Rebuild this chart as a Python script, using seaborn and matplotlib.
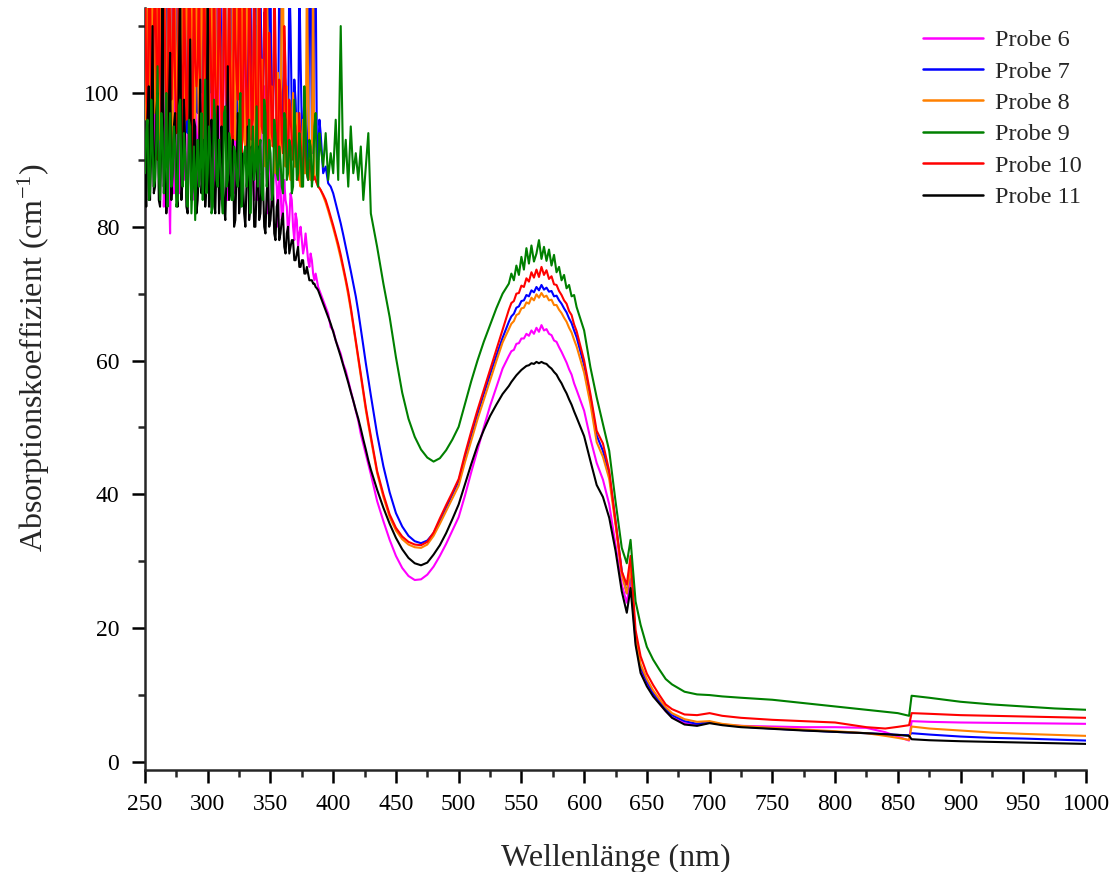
import numpy as np
import pandas as pd
import matplotlib
matplotlib.use("Agg")
import matplotlib.pyplot as plt
from matplotlib.ticker import MultipleLocator
import seaborn as sns

# ---- wavelength grids (nm) ----
wl_noise = list(range(250, 390))          # 1 nm steps, noisy UV edge
wl_uv = list(range(390, 431, 2))
wl_mid = [435, 440, 445, 450, 455, 460, 465, 470, 475, 480, 485, 490, 495,
          500, 505, 510, 515, 520, 525, 530, 535]
wl_peak = list(range(540, 595, 2))
wl_red = [600, 605, 610, 615, 620, 625, 630, 634, 637, 641, 645, 650, 655,
          660, 665, 670, 680, 690, 700, 710, 725, 750, 775, 800, 825, 840,
          850, 859, 861, 875, 900, 925, 950, 975, 1000]

# ---- absorption coefficient (1/cm); off-scale readings stored as 118 ----
p6_noise = [80, 112, 104, 84, 88, 97, 118, 86, 92, 118,
            118, 91, 86, 118, 108, 83, 95, 101, 118, 88,
            79, 96, 118, 85, 90, 118, 102, 93, 85, 100,
            118, 87, 96, 118, 88, 94, 118, 90, 84, 118,
            107, 85, 92, 98, 118, 90, 86, 118, 99, 88,
            118, 95, 83, 118, 110, 86, 94, 118, 87, 97,
            118, 84, 90, 118, 104, 92, 84, 99, 118, 87,
            96, 118, 85, 91, 108, 118, 89, 85, 118, 100,
            92, 118, 86, 89, 103, 94, 88, 84, 98, 110,
            84, 89, 95, 85, 86, 101, 92, 87, 82, 94,
            90, 83, 84, 92, 88, 86, 80, 89, 86, 81,
            82, 87, 84, 83, 79, 81, 85, 84, 80, 78,
            82, 81, 77, 79, 80, 78, 76, 77, 79, 77,
            75, 74, 76, 75, 73, 72, 73, 72, 71, 70.5]
p6_uv = [70, 69, 68, 67, 65, 64.5, 63, 62, 61, 59.5,
         58.5, 57, 55.5, 54, 52.5, 51, 49, 47.5, 46, 44.5, 43]
p6_mid = [39.0, 36.0, 33.2, 30.8, 29.0, 27.8, 27.2, 27.3, 28.0, 29.2, 30.8,
          32.6, 34.6, 36.6, 39.8, 43.3, 46.6, 50.0, 53.2, 56.0, 58.8]
p6_peak = [60.7, 61.4, 61.6, 62.5, 62.6, 63.3, 63.3, 64.0, 63.7, 64.5, 64.0,
           64.9, 64.3, 65.3, 64.5, 64.7, 64.0, 63.8, 63.0, 62.8, 62.0, 61.3,
           60.5, 59.7, 58.7, 57.9, 56.6, 55.6]
p6_red = [52.5, 48.3, 44.7, 42.2, 38.5, 32.5, 26.5, 23.8, 27.2, 18.0, 13.8,
          11.6, 10.0, 8.8, 7.6, 6.7, 5.8, 5.5, 5.9, 5.6, 5.4, 5.3, 5.2, 5.2,
          5.1, 4.45, 3.8, 3.2, 6.1, 6.0, 5.9, 5.85, 5.8, 5.75, 5.7]

p7_noise = [118, 110, 100, 118, 118, 97, 96, 118, 118, 102,
            104, 118, 118, 99, 98, 118, 118, 112, 101, 118,
            118, 96, 95, 118, 118, 103, 107, 118, 118, 98,
            99, 118, 118, 95, 94, 118, 118, 101, 103, 118,
            118, 98, 97, 118, 118, 104, 100, 118, 118, 96,
            94, 118, 118, 100, 105, 118, 118, 95, 96, 118,
            118, 102, 99, 118, 118, 94, 93, 118, 118, 99,
            102, 118, 118, 97, 96, 118, 118, 103, 100, 118,
            118, 96, 94, 118, 118, 99, 98, 118, 118, 95,
            95, 118, 118, 100, 99, 112, 108, 96, 93, 118,
            118, 95, 97, 109, 104, 94, 92, 118, 118, 98,
            96, 104, 101, 93, 91, 118, 110, 97, 94, 102,
            99, 93, 90, 118, 105, 95, 92, 100, 97, 91,
            89, 118, 118, 93, 91, 118, 118, 92, 90, 96]
p7_uv = [94, 88, 89, 86.5, 86, 85, 83.5, 82, 80.5, 78.8,
         77, 75.2, 73.4, 71.5, 69.6, 67.3, 64.8, 62.2, 59.6, 57.2, 54.8]
p7_mid = [49.0, 44.2, 40.3, 37.2, 35.2, 33.8, 33.0, 32.7, 33.1, 34.2, 36.0,
          38.0, 40.0, 42.0, 45.5, 48.8, 52.0, 55.0, 57.9, 60.7, 63.4]
p7_peak = [65.8, 66.6, 67.0, 67.9, 68.1, 68.9, 69.0, 69.8, 69.6, 70.5, 70.2,
           71.0, 70.5, 71.3, 70.6, 70.9, 70.3, 70.4, 69.6, 69.7, 69.0, 68.5,
           67.8, 67.2, 66.3, 65.6, 64.5, 63.5]
p7_red = [59.3, 54.5, 48.8, 46.5, 43.0, 36.0, 28.5, 25.2, 28.8, 18.5, 14.2,
          12.0, 10.3, 9.1, 7.9, 7.0, 6.1, 5.7, 6.0, 5.6, 5.3, 5.0, 4.75, 4.5,
          4.3, 4.15, 4.05, 4.0, 4.3, 4.1, 3.8, 3.6, 3.5, 3.35, 3.2]

p8_noise = [105, 96, 118, 118, 92, 104, 118, 99, 97, 118,
            118, 93, 100, 118, 94, 107, 118, 96, 98, 118,
            118, 101, 91, 118, 118, 94, 103, 118, 95, 99,
            118, 92, 99, 118, 118, 97, 92, 118, 118, 95,
            97, 118, 106, 94, 93, 118, 118, 98, 100, 118,
            95, 92, 118, 118, 98, 103, 118, 95, 91, 118,
            108, 93, 96, 118, 118, 99, 94, 118, 102, 90,
            118, 97, 93, 118, 118, 95, 97, 118, 104, 93,
            92, 118, 118, 99, 95, 90, 101, 112, 90, 96,
            118, 92, 94, 105, 99, 91, 89, 118, 107, 93,
            92, 101, 97, 90, 88, 99, 103, 89, 91, 118,
            118, 92, 89, 101, 96, 88, 87, 94, 100, 89,
            89, 97, 94, 87, 86, 92, 96, 88, 88, 118,
            102, 89, 87, 92, 118, 88, 87, 86.5, 86, 85.8]
p8_uv = [85.5, 84.6, 83.6, 82.4, 81.1, 79.8, 78.4, 76.9, 75.3, 73.6,
         71.8, 69.8, 67.6, 65.2, 62.7, 60.2, 57.6, 55.1, 52.6, 50.4, 48.3]
p8_mid = [43.2, 39.6, 36.6, 34.6, 33.3, 32.5, 32.1, 32.0, 32.5, 33.8, 35.6,
          37.5, 39.4, 41.3, 44.8, 48.0, 51.2, 54.1, 57.0, 59.9, 62.7]
p8_peak = [64.7, 65.5, 65.9, 66.8, 67.0, 67.8, 67.9, 68.7, 68.5, 69.4, 69.0,
           69.9, 69.4, 70.1, 69.5, 69.7, 69.0, 69.1, 68.3, 68.3, 67.6, 67.1,
           66.4, 65.8, 64.9, 64.2, 63.1, 62.1]
p8_red = [58.2, 53.5, 47.8, 45.6, 42.3, 35.5, 28.0, 25.2, 29.0, 18.6, 14.6,
          12.4, 10.7, 9.4, 8.2, 7.3, 6.4, 6.0, 6.1, 5.7, 5.4, 5.1, 4.85, 4.6,
          4.3, 3.9, 3.6, 3.3, 5.3, 5.0, 4.7, 4.4, 4.2, 4.05, 3.9]

p9_noise = [88, 94, 96, 84, 85, 99, 92, 86, 87, 93,
            104, 88, 84, 97, 94, 85, 89, 100, 83, 91,
            97, 86, 88, 95, 92, 83, 84, 98, 99, 88,
            86, 94, 91, 85, 83, 96, 95, 82, 87, 92,
            81, 89, 93, 86, 89, 97, 84, 90, 102, 85,
            88, 95, 92, 82, 83, 99, 96, 87, 86, 93,
            90, 85, 82, 97, 98, 86, 87, 94, 93, 84,
            84, 92, 91, 87, 86, 95, 100, 83, 85, 91,
            92, 86, 88, 96, 82, 90, 95, 87, 89, 98,
            86, 91, 93, 85, 84, 99, 97, 86, 88, 93,
            91, 84, 85, 96, 94, 88, 87, 92, 90, 86,
            85, 97, 96, 87, 88, 93, 92, 85, 86, 99,
            93, 87, 88, 94, 91, 86, 86, 101, 95, 88,
            87, 93, 92, 86, 88, 95, 97, 88, 86, 94]
p9_uv = [92, 89, 94, 87, 91, 88, 96, 87, 110, 88,
         93, 86, 95, 88, 91, 87, 92, 84, 89, 94, 82]
p9_mid = [77.0, 71.5, 66.5, 60.5, 55.2, 51.3, 48.6, 46.7, 45.5, 44.9, 45.4,
          46.6, 48.2, 50.1, 53.5, 56.9, 60.0, 62.8, 65.3, 67.8, 70.0]
p9_peak = [71.5, 73.0, 72.0, 74.2, 72.8, 75.5, 73.6, 76.8, 74.5, 77.2, 74.8,
           76.0, 78.0, 75.2, 77.0, 74.9, 76.6, 74.2, 75.8, 73.2, 74.0, 72.0,
           72.8, 70.8, 71.3, 69.6, 69.8, 68.0]
p9_red = [64.5, 59.0, 54.5, 50.5, 46.5, 39.0, 32.0, 29.7, 33.2, 24.0, 20.5,
          17.2, 15.3, 13.8, 12.4, 11.6, 10.5, 10.1, 10.0, 9.8, 9.6, 9.3, 8.8,
          8.3, 7.8, 7.5, 7.3, 6.9, 9.9, 9.6, 9.0, 8.6, 8.3, 8.0, 7.8]

p10_noise = [118, 102, 95, 112, 118, 93, 98, 109, 118, 106,
             90, 118, 104, 97, 102, 118, 107, 91, 93, 118,
             110, 99, 105, 118, 101, 94, 96, 118, 108, 103,
             91, 118, 106, 96, 100, 118, 111, 89, 95, 118,
             105, 101, 104, 118, 99, 93, 92, 118, 108, 97,
             98, 118, 109, 100, 94, 118, 103, 92, 101, 118,
             107, 96, 90, 118, 110, 99, 97, 118, 104, 94,
             93, 118, 108, 102, 99, 118, 112, 91, 95, 118,
             106, 97, 91, 118, 110, 93, 96, 118, 105, 92,
             92, 118, 106, 95, 94, 112, 118, 91, 90, 109,
             103, 94, 92, 118, 108, 90, 89, 102, 100, 93,
             91, 110, 104, 89, 88, 99, 97, 92, 90, 96,
             95, 89, 87, 97, 93, 89, 88, 94, 91, 88,
             87, 90, 89, 88, 87, 87.5, 87, 86.5, 86, 85.8]
p10_uv = [85.5, 84.8, 84, 82.8, 81.5, 80.2, 78.8, 77.4, 75.8, 74,
          72.2, 70.3, 68, 65.5, 63, 60.5, 58, 55.5, 53, 50.8, 48.7]
p10_mid = [43.5, 40.0, 37.0, 35.0, 33.7, 32.9, 32.5, 32.4, 32.9, 34.3, 36.4,
           38.4, 40.3, 42.3, 46.0, 49.4, 52.6, 55.6, 58.6, 61.6, 64.6]
p10_peak = [67.6, 68.6, 68.9, 70.0, 70.1, 71.2, 71.0, 72.3, 71.8, 73.2, 72.4,
            73.6, 72.5, 74.0, 72.8, 73.5, 72.2, 72.6, 71.4, 71.3, 70.4, 69.8,
            69.0, 68.5, 67.4, 66.8, 65.4, 64.4]
p10_red = [60.0, 55.0, 49.5, 47.6, 43.5, 36.0, 28.5, 26.5, 30.8, 19.7, 15.8,
           13.2, 11.5, 10.0, 8.6, 7.9, 7.1, 7.0, 7.3, 6.9, 6.6, 6.3, 6.1, 5.9,
           5.2, 5.0, 5.25, 5.5, 7.3, 7.2, 7.0, 6.9, 6.8, 6.7, 6.6]

p11_noise = [88, 83, 96, 101, 84, 92, 110, 85, 86, 97,
             100, 84, 83, 93, 118, 86, 90, 82, 85, 98,
             106, 84, 88, 95, 97, 85, 83, 103, 118, 84,
             87, 99, 93, 83, 82, 91, 108, 84, 86, 96,
             95, 82, 84, 89, 102, 85, 88, 93, 83, 86,
             118, 83, 85, 96, 92, 84, 82, 90, 98, 82,
             86, 95, 90, 83, 81, 88, 104, 84, 85, 90,
             93, 80, 81, 89, 97, 82, 84, 91, 88, 82,
             80, 87, 95, 81, 83, 92, 90, 80, 80, 86,
             92, 81, 82, 88, 87, 80, 79, 85, 88, 80,
             81, 84, 86, 79, 78, 83, 84, 78, 79, 81,
             82, 77, 76, 79, 80, 76, 77, 78, 78, 75,
             75, 76, 77, 74, 74, 75, 75, 73, 73, 74,
             73, 72, 72, 72, 71.5, 71.5, 71, 70.8, 70.5, 70]
p11_uv = [69.5, 68.5, 67.5, 66.5, 65.5, 64.3, 63, 61.8, 60.6, 59.3,
          58, 56.7, 55.3, 54, 52.6, 51.3, 49.8, 48.2, 46.7, 45.1, 43.7]
p11_mid = [40.7, 38.0, 35.6, 33.5, 31.8, 30.5, 29.7, 29.4, 29.8, 31.0, 32.4,
           34.2, 36.3, 38.5, 41.5, 44.5, 47.3, 49.6, 51.7, 53.4, 55.0]
p11_peak = [56.2, 56.8, 57.3, 57.8, 58.2, 58.6, 58.9, 59.2, 59.3, 59.6, 59.5,
            59.8, 59.6, 59.8, 59.6, 59.5, 59.1, 58.8, 58.3, 57.9, 57.2, 56.6,
            55.8, 55.1, 54.2, 53.4, 52.4, 51.5]
p11_red = [48.7, 45.0, 41.4, 39.6, 36.5, 31.6, 25.5, 22.3, 26.0, 17.5, 13.3,
           11.3, 9.8, 8.7, 7.6, 6.6, 5.6, 5.4, 5.8, 5.5, 5.2, 4.95, 4.7, 4.5,
           4.3, 4.15, 4.05, 3.9, 3.4, 3.25, 3.1, 3.0, 2.9, 2.8, 2.7]

probes = ["Probe 6", "Probe 7", "Probe 8", "Probe 9", "Probe 10", "Probe 11"]
colors = ["#FF00FF", "#0000FF", "#FF8000", "#008000", "#FF0000", "#000000"]

wavelength = wl_noise + wl_uv + wl_mid + wl_peak + wl_red
values = {
    "Probe 6": p6_noise + p6_uv + p6_mid + p6_peak + p6_red,
    "Probe 7": p7_noise + p7_uv + p7_mid + p7_peak + p7_red,
    "Probe 8": p8_noise + p8_uv + p8_mid + p8_peak + p8_red,
    "Probe 9": p9_noise + p9_uv + p9_mid + p9_peak + p9_red,
    "Probe 10": p10_noise + p10_uv + p10_mid + p10_peak + p10_red,
    "Probe 11": p11_noise + p11_uv + p11_mid + p11_peak + p11_red,
}

df = pd.concat(
    [pd.DataFrame({"Wellenlänge": wavelength, "Absorption": values[p], "Probe": p})
     for p in probes],
    ignore_index=True,
)

sns.set_style("ticks")
plt.rcParams["font.family"] = ["Liberation Serif", "DejaVu Serif"]
plt.rcParams["mathtext.fontset"] = "custom"
plt.rcParams["mathtext.rm"] = "Liberation Serif"
plt.rcParams["mathtext.it"] = "Liberation Serif:italic"
plt.rcParams["mathtext.default"] = "regular"

fig = plt.figure(figsize=(11.14, 8.72), dpi=100)
ax = fig.add_axes([145 / 1114, 102 / 872, 941 / 1114, 762 / 872])

palette = dict(zip(probes, colors))
draw_order = ["Probe 6", "Probe 7", "Probe 8", "Probe 10", "Probe 11", "Probe 9"]
for z, p in enumerate(draw_order):
    sns.lineplot(data=df[df["Probe"] == p], x="Wellenlänge", y="Absorption",
                 color=palette[p], linewidth=1.5, label=p, ax=ax,
                 estimator=None, sort=False, zorder=2 + z)

ax.set_xlim(250, 1000)
ax.set_ylim(-1.2, 112.7)
ax.xaxis.set_major_locator(MultipleLocator(50))
ax.xaxis.set_minor_locator(MultipleLocator(25))
ax.yaxis.set_major_locator(MultipleLocator(20))
ax.yaxis.set_minor_locator(MultipleLocator(10))

sns.despine(ax=ax, top=True, right=True)
for s in ("left", "bottom"):
    ax.spines[s].set_linewidth(1.8)

ax.tick_params(axis="both", which="major", direction="out", length=9.5,
               width=1.8, labelsize=17, colors="black")
ax.tick_params(axis="both", which="minor", direction="out", length=5,
               width=1.8)
ax.tick_params(axis="x", which="major", pad=7.5)
ax.tick_params(axis="y", which="major", pad=9)

ax.set_xlabel("Wellenlänge (nm)", fontsize=23)
ax.set_ylabel(r"Absorptionskoeffizient (cm$^{-1}$)", fontsize=23)
ax.xaxis.set_label_coords(0.5, -0.097)
ax.yaxis.set_label_coords(-0.099, 0.541)

handles, labels = ax.get_legend_handles_labels()
lookup = dict(zip(labels, handles))
leg = ax.legend([lookup[p] for p in probes], probes, loc="upper left",
                bbox_to_anchor=(923 / 1114, 1 - 29 / 872),
                bbox_transform=fig.transFigure, frameon=False,
                fontsize=17.5, handlelength=2.45, handletextpad=0.5,
                labelspacing=0.39, borderpad=0, borderaxespad=0)
for line in leg.get_lines():
    line.set_linewidth(1.8)

fig.savefig("out.png", dpi=100)
